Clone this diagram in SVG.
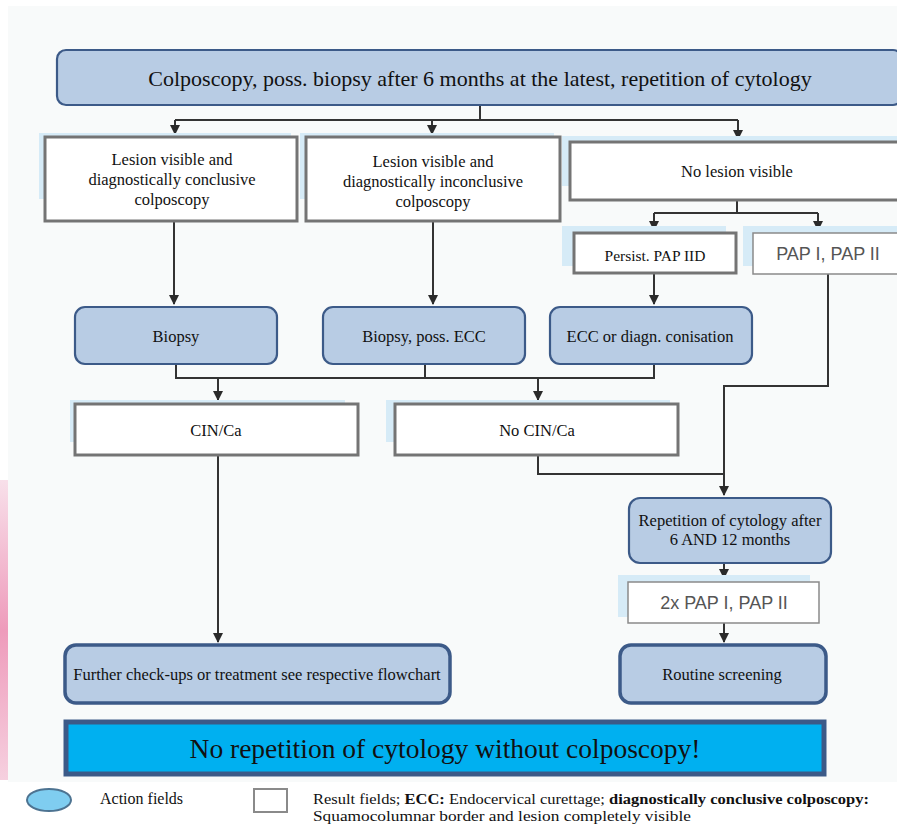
<svg xmlns="http://www.w3.org/2000/svg" width="897" height="826" viewBox="0 0 897 826">
<defs>
<marker id="ah" viewBox="0 0 10 10" refX="9" refY="5" markerWidth="5" markerHeight="5" orient="auto" markerUnits="strokeWidth">
<path d="M0,0 L10,5 L0,10 z" fill="#2a2a2a"/>
</marker>
<linearGradient id="pink" x1="0" y1="0" x2="0" y2="1">
<stop offset="0" stop-color="#f8e0ea"/>
<stop offset="0.5" stop-color="#ee9bbb"/>
<stop offset="1" stop-color="#f6d0df"/>
</linearGradient>
<style>
.act{fill:#b8cce4;stroke:#3c5a88;stroke-width:2.2}
.actb{fill:#b8cce4;stroke:#3c5a88;stroke-width:3.5}
.res{fill:#ffffff;stroke:#747474;stroke-width:3}
.resl{fill:#ffffff;stroke:#8a8a8a;stroke-width:1.5}
.sh{fill:#d6ebf7}
.t{font-family:"Liberation Serif","Times New Roman",serif;fill:#111;text-anchor:middle;font-size:16.5px}
.s{font-family:"Liberation Sans",Arial,sans-serif;fill:#555;text-anchor:middle;font-size:18px}
.lg{font-family:"Liberation Serif","Times New Roman",serif;fill:#111;font-size:16px}
.lg2{font-family:"Liberation Serif","Times New Roman",serif;fill:#111;font-size:14.5px}
.c{fill:none;stroke:#333;stroke-width:2}
</style>
</defs>
<rect x="0" y="0" width="897" height="826" fill="#ffffff"/>
<rect x="8" y="6" width="889" height="776" fill="#f8fafa"/>
<rect x="0" y="480" width="8" height="300" fill="url(#pink)"/>

<g id="connectors">
<path class="c" d="M480,105 V120 M175,120 H738"/>
<path class="c" d="M175,120 V134" marker-end="url(#ah)"/>
<path class="c" d="M432,120 V134" marker-end="url(#ah)"/>
<path class="c" d="M738,120 V139" marker-end="url(#ah)"/>
<path class="c" d="M174,222 V304" marker-end="url(#ah)"/>
<path class="c" d="M433,222 V304" marker-end="url(#ah)"/>
<path class="c" d="M737,200 V213 M654,213 H818"/>
<path class="c" d="M654,213 V230" marker-end="url(#ah)"/>
<path class="c" d="M818,213 V230" marker-end="url(#ah)"/>
<path class="c" d="M654,273 V304" marker-end="url(#ah)"/>
<path class="c" d="M176,364 V378 H654 V364 M425,364 V378"/>
<path class="c" d="M218,378 V400" marker-end="url(#ah)"/>
<path class="c" d="M538,378 V400" marker-end="url(#ah)"/>
<path class="c" d="M538,455 V474 H724"/>
<path class="c" d="M828,274 V386 H724 V495" marker-end="url(#ah)"/>
<path class="c" d="M724,563 V578" marker-end="url(#ah)"/>
<path class="c" d="M724,623 V642" marker-end="url(#ah)"/>
<path class="c" d="M218,455 V642" marker-end="url(#ah)"/>
</g>

<g id="n-top">
<rect class="act" x="57" y="50" width="845" height="55" rx="9"/>
<text class="t" x="480" y="86" style="font-size:22px">Colposcopy, poss. biopsy after 6 months at the latest, repetition of cytology</text>
</g>

<g id="n-conclusive">
<rect class="sh" x="39" y="133" width="252" height="66"/>
<rect class="res" x="45" y="137" width="252" height="84"/>
<text class="t" x="172" y="165">Lesion visible and</text>
<text class="t" x="172" y="185">diagnostically conclusive</text>
<text class="t" x="172" y="205">colposcopy</text>
</g>

<g id="n-inconclusive">
<rect class="sh" x="300" y="133" width="254" height="66"/>
<rect class="res" x="306" y="137" width="254" height="84"/>
<text class="t" x="433" y="167">Lesion visible and</text>
<text class="t" x="433" y="187">diagnostically inconclusive</text>
<text class="t" x="433" y="207">colposcopy</text>
</g>

<g id="n-nolesion">
<rect class="sh" x="562" y="136" width="335" height="50"/>
<rect class="res" x="570" y="142" width="330" height="58"/>
<text class="t" x="737" y="177">No lesion visible</text>
</g>

<g id="n-persist">
<rect class="sh" x="562" y="226" width="164" height="40"/>
<rect class="res" x="574" y="233" width="162" height="40"/>
<text class="t" x="655" y="261" style="font-size:15.5px">Persist. PAP IID</text>
</g>

<g id="n-pap">
<rect class="sh" x="743" y="226" width="154" height="40"/>
<rect class="resl" x="753" y="233" width="150" height="41"/>
<text class="s" x="828" y="260">PAP I, PAP II</text>
</g>

<g id="n-biopsy">
<rect class="act" x="75" y="307" width="202" height="57" rx="10"/>
<text class="t" x="176" y="342">Biopsy</text>
</g>

<g id="n-biopsyecc">
<rect class="act" x="323" y="307" width="202" height="57" rx="10"/>
<text class="t" x="424" y="342">Biopsy, poss. ECC</text>
</g>

<g id="n-ecc">
<rect class="act" x="550" y="307" width="202" height="57" rx="10"/>
<text class="t" x="650" y="342">ECC or diagn. conisation</text>
</g>

<g id="n-cin">
<rect class="sh" x="70" y="400" width="275" height="42"/>
<rect class="res" x="75" y="404" width="283" height="51"/>
<text class="t" x="216" y="436">CIN/Ca</text>
</g>

<g id="n-nocin">
<rect class="sh" x="386" y="400" width="284" height="42"/>
<rect class="res" x="395" y="404" width="283" height="51"/>
<text class="t" x="537" y="436">No CIN/Ca</text>
</g>

<g id="n-repetition">
<rect class="act" x="629" y="498" width="202" height="65" rx="11"/>
<text class="t" x="730" y="526">Repetition of cytology after</text>
<text class="t" x="730" y="545">6 AND 12 months</text>
</g>

<g id="n-2xpap">
<rect class="sh" x="618" y="575" width="192" height="42"/>
<rect class="resl" x="628" y="582" width="191" height="41"/>
<text class="s" x="724" y="609">2x PAP I, PAP II</text>
</g>

<g id="n-routine">
<rect class="actb" x="620" y="645" width="206" height="58" rx="11"/>
<text class="t" x="722" y="680">Routine screening</text>
</g>

<g id="n-further">
<rect class="actb" x="65" y="645" width="385" height="58" rx="11"/>
<text class="t" x="257" y="680">Further check-ups or treatment see respective flowchart</text>
</g>

<g id="n-banner">
<rect x="66" y="722" width="758" height="52" fill="#00b0f0" stroke="#3c5a88" stroke-width="5"/>
<text class="t" x="445" y="758" style="font-size:27.5px">No repetition of cytology without colposcopy!</text>
</g>

<g id="legend">
<ellipse cx="49" cy="800" rx="22" ry="11" fill="#7fcdf0" stroke="#4d7391" stroke-width="2"/>
<text class="lg" x="100" y="804">Action fields</text>
<rect x="254" y="789" width="33" height="23" fill="#ffffff" stroke="#8a8a8a" stroke-width="2"/>
<text class="lg2" x="313" y="804" textLength="556" lengthAdjust="spacingAndGlyphs">Result fields; <tspan font-weight="bold">ECC:</tspan> Endocervical curettage; <tspan font-weight="bold">diagnostically conclusive colposcopy:</tspan></text>
<text class="lg2" x="313" y="821" textLength="378" lengthAdjust="spacingAndGlyphs">Squamocolumnar border and lesion completely visible</text>
</g>
</svg>
